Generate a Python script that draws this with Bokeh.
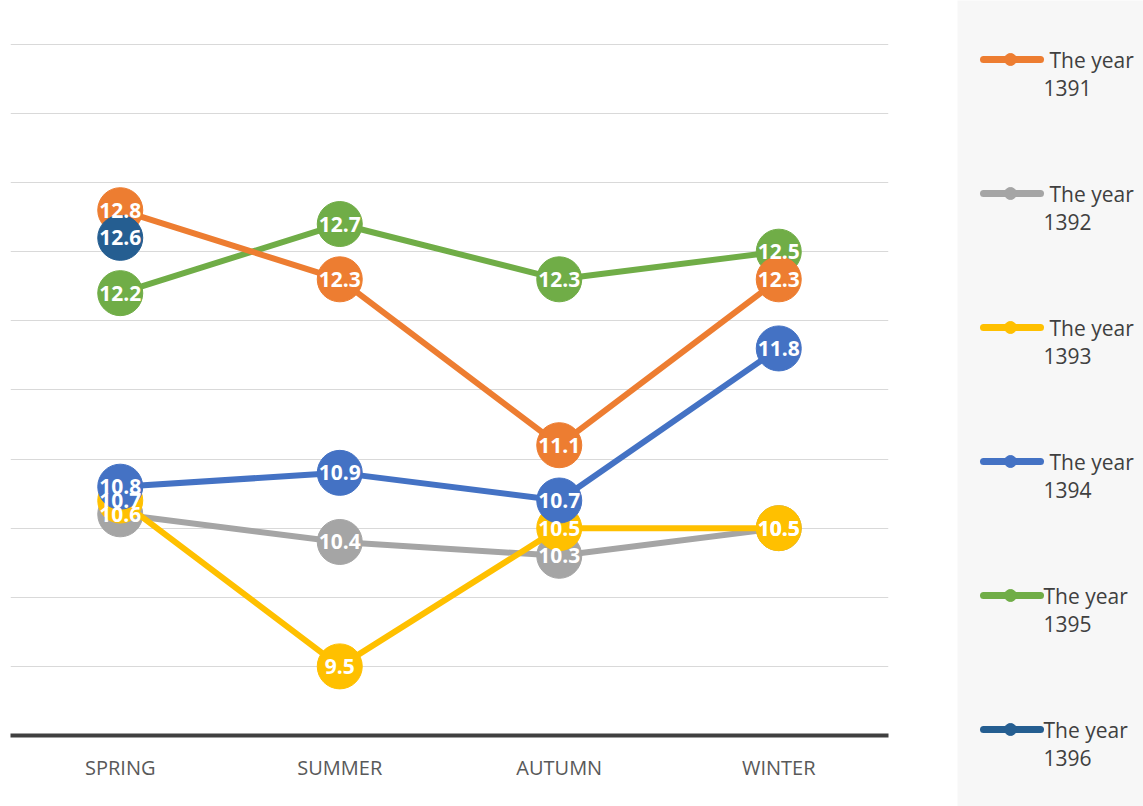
import math
from bokeh.plotting import figure
from bokeh.models import Range1d, FixedTicker, ColumnDataSource
from bokeh.layouts import row, column
from bokeh.core.properties import value
from bokeh.embed import file_html
from bokeh.resources import INLINE

seasons = ["SPRING", "SUMMER", "AUTUMN", "WINTER"]
years = ["1391", "1392", "1393", "1394", "1395", "1396"]
y1391 = [12.8, 12.3, 11.1, 12.3]
y1392 = [10.6, 10.4, 10.3, 10.5]
y1393 = [10.7, 9.5, 10.5, 10.5]
y1394 = [10.8, 10.9, 10.7, 11.8]
y1395 = [12.2, 12.7, 12.3, 12.5]
y1396 = [12.6, float("nan"), float("nan"), float("nan")]
colors = ["#ED7D31", "#A5A5A5", "#FFC000", "#4472C4", "#70AD47", "#255E91"]

series = dict(zip(years, [y1391, y1392, y1393, y1394, y1395, y1396]))
col = dict(zip(years, colors))
draw_order = ["1392", "1393", "1394", "1395", "1391", "1396"]

FONT = "Open Sans"

p = figure(x_range=seasons, y_range=Range1d(9, 14.1),
           frame_width=878, frame_height=705,
           min_border_left=10, min_border_right=69, min_border_top=30, min_border_bottom=71,
           output_backend="svg", toolbar_location=None)
p.x_range.range_padding = 0
p.outline_line_color = None
p.background_fill_color = "white"
p.border_fill_color = "white"
p.yaxis.visible = False
p.xgrid.grid_line_color = None
p.ygrid.ticker = FixedTicker(ticks=[9 + 0.5 * i for i in range(11)])
p.ygrid.grid_line_color = "#D9D9D9"
p.ygrid.grid_line_width = 1
xa = p.xaxis[0]
xa.axis_line_color = "#404040"
xa.axis_line_width = 4
xa.major_tick_line_color = None
xa.minor_tick_line_color = None
xa.major_label_text_font = FONT
xa.major_label_text_font_size = "20px"
xa.major_label_text_color = "#595959"
xa.major_label_standoff = 12

for yr in draw_order:
    vals = series[yr]
    src = ColumnDataSource(dict(x=seasons, y=vals))
    p.line("x", "y", source=src, line_color=col[yr], line_width=6, line_join="round")
    pts = [(s, v) for s, v in zip(seasons, vals) if not math.isnan(v)]
    csrc = ColumnDataSource(dict(x=[a for a, b in pts], y=[b for a, b in pts]))
    p.scatter("x", "y", source=csrc, size=45, fill_color=col[yr], line_color=col[yr])

for yr in draw_order:
    vals = series[yr]
    pts = [(s, v) for s, v in zip(seasons, vals) if not math.isnan(v)]
    lsrc = ColumnDataSource(dict(x=[a for a, b in pts], y=[b for a, b in pts],
                                 t=["%.1f" % b for a, b in pts]))
    p.text("x", "y", text="t", source=lsrc, text_align="center", text_baseline="middle",
           text_color="white", text_font=value(FONT), text_font_style="bold",
           text_font_size="21px")

# legend panel
lg = figure(x_range=Range1d(0, 186), y_range=Range1d(806, 0),
            frame_width=186, frame_height=806,
            min_border=0, min_border_left=0, min_border_right=0,
            min_border_top=0, min_border_bottom=0,
            x_axis_type=None, y_axis_type=None,
            output_backend="svg", toolbar_location=None)
lg.outline_line_color = None
lg.grid.visible = False
lg.background_fill_color = "#F7F7F7"
lg.border_fill_color = "#F7F7F7"

for i, yr in enumerate(years):
    yc = 59 + 134 * i
    lg.line([26, 83], [yc, yc], line_color=col[yr], line_width=7, line_cap="round")
    lg.scatter([53], [yc], size=12, fill_color=col[yr], line_color=col[yr])
    tx = 92 if i < 4 else 86
    lg.text([tx], [yc], text=["The year"], text_align="left", text_baseline="middle",
            text_color="#404040", text_font=value(FONT), text_font_size="21px")
    lg.text([86], [yc + 28], text=[yr], text_align="left", text_baseline="middle",
            text_color="#404040", text_font=value(FONT), text_font_size="21px")

layout = row(p, column(lg), spacing=0)
open("out.html", "w").write(file_html(layout, INLINE))
